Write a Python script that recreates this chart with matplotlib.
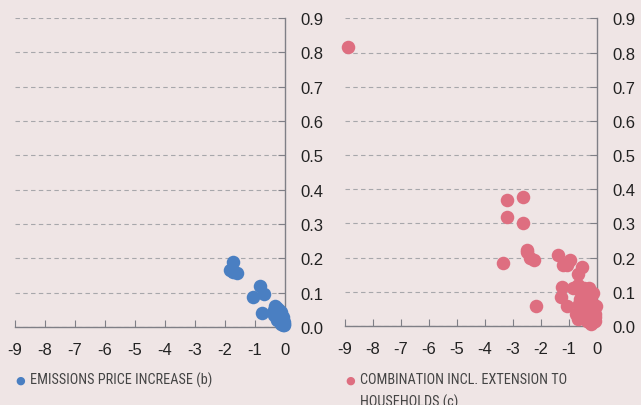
import matplotlib
matplotlib.use("Agg")
from matplotlib import pyplot as plt
from matplotlib import font_manager

BG = "#efe5e5"
BLUE = "#4a7fc2"
RED = "#de6e80"
GREY = "#7f7f86"

# emissions price increase (b)
blue_x = [-1.74, -1.72, -1.83, -1.61, -0.83, -1.06, -0.70, -0.78,
          -0.33, -0.38, -0.30, -0.25, -0.20, -0.28, -0.22, -0.15,
          -0.12, -0.10, -0.06, -0.04, -0.02, -0.35, -0.18, -0.08,
          -0.27, -0.12, -0.05, -0.02, -0.14, -0.09]
blue_y = [0.19, 0.16, 0.165, 0.157, 0.12, 0.087, 0.096, 0.041,
          0.062, 0.05, 0.045, 0.055, 0.05, 0.03, 0.035, 0.04,
          0.025, 0.03, 0.02, 0.01, 0.015, 0.035, 0.02, 0.005,
          0.02, 0.045, 0.03, 0.005, 0.01, 0.015]

# combination incl. extension to households (c)
red_x = [-8.88, -3.22, -2.62, -3.22, -2.64, -2.50, -2.48, -2.37,
         -2.23, -3.34, -2.16, -1.37, -1.22, -1.08, -0.96, -0.51,
         -0.67, -1.24, -1.28, -1.08, -0.84, -0.67, -0.27, -0.15,
         -0.02, -0.67, -0.73, -0.27, -0.06, -0.55, -0.45, -0.35,
         -0.60, -0.50, -0.40, -0.30, -0.20, -0.10, -0.62, -0.48,
         -0.38, -0.25, -0.15, -0.08, -0.55, -0.42, -0.30, -0.18,
         -0.05, -0.65, -0.35, -0.12, -0.45, -0.22]
red_y = [0.817, 0.369, 0.378, 0.32, 0.30, 0.222, 0.215, 0.20,
         0.193, 0.183, 0.058, 0.206, 0.179, 0.179, 0.193, 0.173,
         0.153, 0.115, 0.083, 0.059, 0.112, 0.119, 0.112, 0.095,
         0.057, 0.02, 0.034, 0.012, 0.015, 0.10, 0.09, 0.095,
         0.08, 0.07, 0.075, 0.08, 0.07, 0.06, 0.06, 0.05,
         0.055, 0.05, 0.04, 0.035, 0.035, 0.03, 0.03, 0.02,
         0.025, 0.065, 0.015, 0.01, 0.11, 0.005]

x_ticks = list(range(-9, 1))
y_ticks = [i / 10 for i in range(0, 10)]

label_font = "DejaVu Sans"
names = {f.name for f in font_manager.fontManager.ttflist}
for cand in ["Liberation Sans Narrow", "Roboto Condensed", "Liberation Sans"]:
    if cand in names:
        label_font = cand
        break


def style_axis(ax):
    ax.set_facecolor(BG)
    ax.set_xlim(-9, 0)
    ax.set_ylim(0, 0.9)
    ax.set_xticks(x_ticks)
    ax.set_xticklabels([str(t) for t in x_ticks])
    ax.set_yticks(y_ticks)
    ax.set_yticklabels(["%.1f" % t for t in y_ticks])
    ax.yaxis.tick_right()
    for side in ["top", "left"]:
        ax.spines[side].set_visible(False)
    for side in ["right", "bottom"]:
        ax.spines[side].set_color(GREY)
        ax.spines[side].set_linewidth(1.0)
    ax.tick_params(axis="both", direction="in", color=GREY, length=5,
                   labelsize=12, labelcolor="#222222")
    ax.tick_params(axis="x", pad=11)
    ax.tick_params(axis="y", pad=11)
    ax.grid(True, axis="y", linestyle=(0, (4, 3)), color="#a7a7ab", linewidth=0.8)
    ax.set_axisbelow(True)
    for lbl in ax.get_xticklabels() + ax.get_yticklabels():
        lbl.set_fontfamily("Liberation Sans")


fig = plt.figure(figsize=(6.41, 4.06), dpi=100)
fig.patch.set_facecolor(BG)

ax1 = fig.add_axes([0.0234, 0.192, 0.4212, 0.761])
ax2 = fig.add_axes([0.538, 0.195, 0.393, 0.757])

ax1.scatter(blue_x, blue_y, s=95, color=BLUE, linewidths=0, clip_on=False, zorder=3)
ax2.scatter(red_x, red_y, s=95, color=RED, linewidths=0, clip_on=False, zorder=3)
style_axis(ax1)
style_axis(ax2)

fig.text(0.031, 0.063, "\u25cf", color=BLUE, fontsize=8, va="center", ha="center")
fig.text(0.047, 0.063, "EMISSIONS PRICE INCREASE (b)", color="#444444",
         fontsize=10.3, va="center", family=label_font)
fig.text(0.546, 0.063, "\u25cf", color=RED, fontsize=8, va="center", ha="center")
fig.text(0.562, 0.063, "COMBINATION INCL. EXTENSION TO", color="#444444",
         fontsize=10.3, va="center", family=label_font)
fig.text(0.562, 0.008, "HOUSEHOLDS (c)", color="#444444",
         fontsize=10.3, va="center", family=label_font)

fig.savefig("out.png", dpi=100, facecolor=BG)
